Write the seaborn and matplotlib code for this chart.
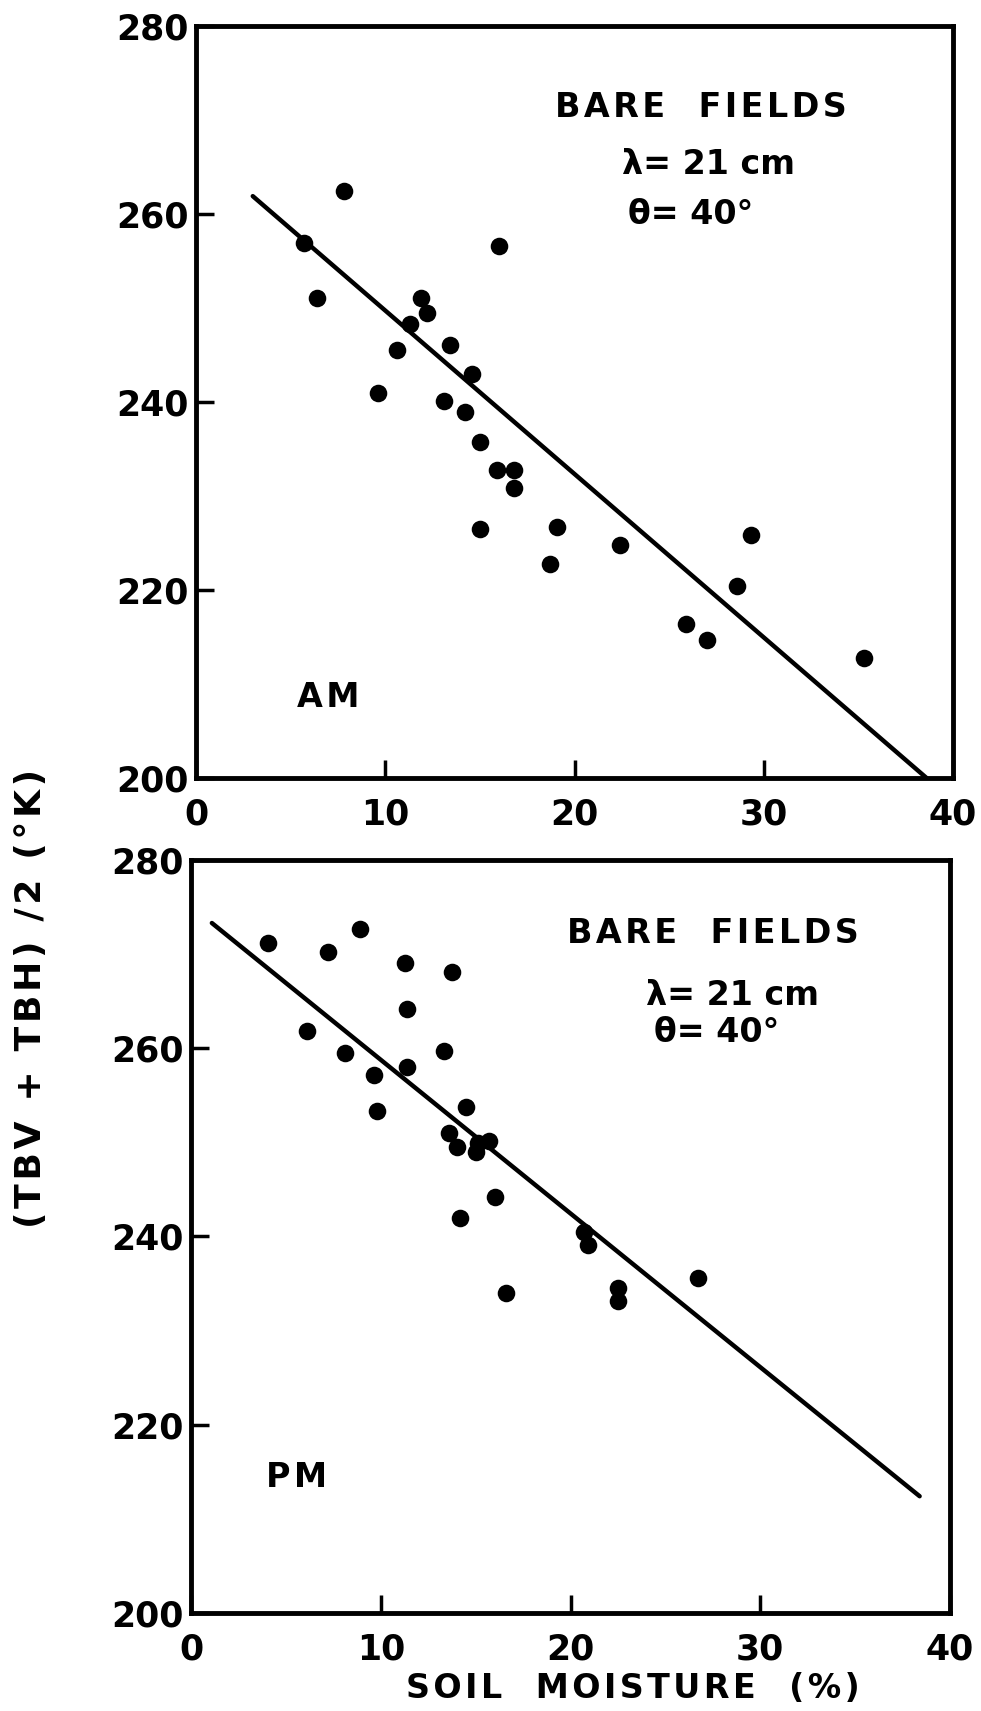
import matplotlib
matplotlib.use("Agg")
import matplotlib.pyplot as plt
import seaborn as sns
import pandas as pd

# ---------------- data ----------------
am_moisture = [5.7, 6.4, 7.8, 9.6, 10.6, 11.3, 11.9, 12.2, 13.4, 13.1, 14.2, 14.6, 15.0,
               15.0, 16.0, 15.9, 16.8, 16.8, 18.7, 19.1, 22.4, 25.9, 27.0, 28.6, 29.3, 35.3]
am_temp = [256.9, 251.1, 262.5, 241.0, 245.5, 248.3, 251.1, 249.5, 246.1, 240.1, 238.9, 243.0,
           235.7, 226.5, 256.6, 232.8, 232.8, 230.9, 222.8, 226.7, 224.8, 216.4, 214.7, 220.4,
           225.8, 212.8]
pm_moisture = [4.05, 7.2, 8.9, 11.3, 13.75, 11.4, 6.1, 8.1, 13.35, 11.4, 9.65, 9.8, 14.5,
               13.6, 14.0, 15.0, 15.1, 15.7, 16.0, 14.2, 20.7, 20.9, 16.6, 22.5, 22.5, 26.7]
pm_temp = [271.2, 270.2, 272.7, 269.1, 268.1, 264.2, 261.8, 259.5, 259.7, 258.0, 257.1, 253.3,
           253.8, 251.0, 249.5, 249.0, 249.9, 250.1, 244.2, 242.0, 240.5, 239.1, 234.0, 234.5,
           233.1, 235.6]
am_fit_x = [3.0, 38.6]
am_fit_y = [261.9, 200.0]
pm_fit_x = [1.1, 38.4]
pm_fit_y = [273.3, 212.4]
x_ticks = [0, 10, 20, 30, 40]
y_ticks = [200, 220, 240, 260, 280]
panel_labels = ["AM", "PM"]
title_text = "BARE  FIELDS"
lambda_text = "λ= 21 cm"
theta_text = "θ= 40°"
x_label = "SOIL  MOISTURE  (%)"
y_label = "(TBV + TBH) /2 (°K)"

HAIR = "\u200a"


def spaced(s):
    return HAIR.join(s)


# ---------------- style ----------------
sns.set_theme(style="ticks")
plt.rcParams['font.family'] = ['DejaVu Sans']
plt.rcParams['font.weight'] = 'bold'
plt.rcParams['text.color'] = 'black'
plt.rcParams['xtick.color'] = 'black'
plt.rcParams['ytick.color'] = 'black'
plt.rcParams['axes.labelcolor'] = 'black'

fig = plt.figure(figsize=(9.81, 17.11), dpi=100)
ax_top = fig.add_axes([0.1998, 0.5453, 0.7717, 0.4395])
ax_bot = fig.add_axes([0.1947, 0.0573, 0.7737, 0.4401])

panels = [
    dict(ax=ax_top, x=am_moisture, y=am_temp, fx=am_fit_x, fy=am_fit_y, label=panel_labels[0],
         title_pos=(26.7, 271.3), lam_pos=(22.5, 265.3), th_pos=(22.8, 259.9), lab_pos=(6.97, 208.6)),
    dict(ax=ax_bot, x=pm_moisture, y=pm_temp, fx=pm_fit_x, fy=pm_fit_y, label=panel_labels[1],
         title_pos=(27.5, 272.2), lam_pos=(24.0, 265.6), th_pos=(24.4, 261.7), lab_pos=(5.56, 214.4)),
]

fs_tick = 25
fs_text = 24
for p in panels:
    ax = p["ax"]
    df = pd.DataFrame({"moisture": p["x"], "tb": p["y"]})
    fit = pd.DataFrame({"moisture": p["fx"], "tb": p["fy"]})
    sns.lineplot(data=fit, x="moisture", y="tb", ax=ax, color="black", linewidth=3.2,
                 sort=False, legend=False)
    sns.scatterplot(data=df, x="moisture", y="tb", ax=ax, color="black", s=160,
                    linewidth=0, legend=False, zorder=3)
    ax.set_xlim(0, 40)
    ax.set_ylim(200, 280)
    ax.set_xticks(x_ticks)
    ax.set_yticks(y_ticks)
    ax.set_xticklabels([str(t) for t in x_ticks], fontsize=fs_tick, fontweight="bold")
    ax.set_yticklabels([str(t) for t in y_ticks], fontsize=fs_tick, fontweight="bold")
    ax.tick_params(axis="x", direction="in", length=13, width=2.5, pad=14, color="black",
                   labelcolor="black")
    ax.tick_params(axis="y", direction="in", length=13, width=2.5, pad=5, color="black",
                   labelcolor="black")
    ax.set_xlabel("")
    ax.set_ylabel("")
    for sp in ax.spines.values():
        sp.set_visible(True)
        sp.set_linewidth(3.5)
        sp.set_color("black")
    ax.set_facecolor("white")
    ax.text(*p["title_pos"], spaced(title_text), ha="center", va="center", fontsize=fs_text,
            fontweight="bold", color="black")
    ax.text(*p["lam_pos"], lambda_text, ha="left", va="center", fontsize=fs_text,
            fontweight="bold", color="black")
    ax.text(*p["th_pos"], theta_text, ha="left", va="center", fontsize=fs_text,
            fontweight="bold", color="black")
    ax.text(*p["lab_pos"], spaced(p["label"]), ha="center", va="center", fontsize=fs_text,
            fontweight="bold", color="black")

fig.text(31 / 981, 1 - 998 / 1711, spaced(y_label), rotation=90, ha="center", va="center",
         fontsize=26, fontweight="bold", color="black")
fig.text(633 / 981, 1 - 1689 / 1711, spaced(x_label), ha="center", va="center",
         fontsize=fs_text, fontweight="bold", color="black")

fig.savefig("out.png", dpi=100, facecolor="white")
